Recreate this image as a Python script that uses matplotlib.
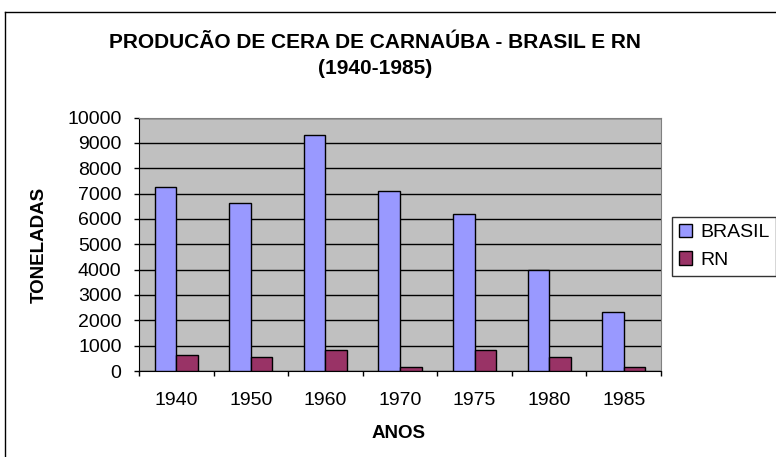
import matplotlib
matplotlib.use("Agg")
import matplotlib.pyplot as plt
import numpy as np
from matplotlib.lines import Line2D

years = ["1940", "1950", "1960", "1970", "1975", "1980", "1985"]
brasil = [7250, 6620, 9300, 7110, 6200, 4000, 2340]
rn = [620, 565, 830, 145, 830, 565, 145]

title_line1 = "PRODUCÃO DE CERA DE CARNAÚBA - BRASIL E RN"
title_line2 = "(1940-1985)"
ylabel = "TONELADAS"
xlabel = "ANOS"
series_names = ["BRASIL", "RN"]

plt.rcParams['font.family'] = ['Liberation Sans', 'DejaVu Sans']

W, H = 776, 457
fig = plt.figure(figsize=(W / 100, H / 100), dpi=100)

# outer chart frame
fig.add_artist(Line2D([5 / W, 5 / W], [0, 1 - 12 / H], color="black", lw=1, transform=fig.transFigure))
fig.add_artist(Line2D([5 / W, 1], [1 - 12 / H, 1 - 12 / H], color="black", lw=1, transform=fig.transFigure))

left, right, top, bottom = 139, 661, 117.5, 371
ax = fig.add_axes([left / W, 1 - bottom / H, (right - left) / W, (bottom - top) / H])
ax.set_facecolor("#C0C0C0")

x = np.arange(len(years))
bw = 0.29
ax.bar(x - bw / 2, brasil, bw, color="#9999FF", edgecolor="black", linewidth=1, label=series_names[0], zorder=3)
ax.bar(x + bw / 2, rn, bw, color="#993366", edgecolor="black", linewidth=1, label=series_names[1], zorder=3)

ax.set_xlim(-0.5, len(years) - 0.5)
ax.set_ylim(0, 10000)
ax.set_yticks(np.arange(0, 10001, 1000))
ax.yaxis.grid(True, color="black", linewidth=1, zorder=1)
ax.set_axisbelow(True)
ax.tick_params(axis="y", labelsize=14, length=3.6, width=1, direction="out", pad=9)

ax.set_xticks(x)
ax.set_xticklabels(years, fontsize=14)
ax.set_xticks(np.arange(-0.5, len(years), 1), minor=True)
ax.tick_params(axis="x", which="major", length=0, pad=15)
ax.tick_params(axis="x", which="minor", length=3.6, width=1, direction="out")

for s in ["top", "right"]:
    ax.spines[s].set_color("#808080")
    ax.spines[s].set_linewidth(0.8)
ax.spines["left"].set_color("black")
ax.spines["bottom"].set_color("black")

fig.text(375 / W, 1 - 42 / H, title_line1, ha="center", va="center", fontsize=15, fontweight="bold")
fig.text(375 / W, 1 - 68 / H, title_line2, ha="center", va="center", fontsize=15, fontweight="bold")

fig.text(39 / W, 1 - 244.5 / H, ylabel, rotation=90, ha="center", va="center", fontsize=13.5, fontweight="bold")
fig.text(399 / W, 1 - 433 / H, xlabel, ha="center", va="center", fontsize=13.5, fontweight="bold")

leg = fig.legend(loc="upper left", bbox_to_anchor=(672 / W, 1 - 217 / H), fontsize=14,
                 frameon=True, fancybox=False, edgecolor="black", handlelength=0.7, handleheight=0.7,
                 handletextpad=0.4, borderpad=0.35, labelspacing=0.5, borderaxespad=0)
leg.get_frame().set_linewidth(1)

fig.savefig("out.png", dpi=100)
